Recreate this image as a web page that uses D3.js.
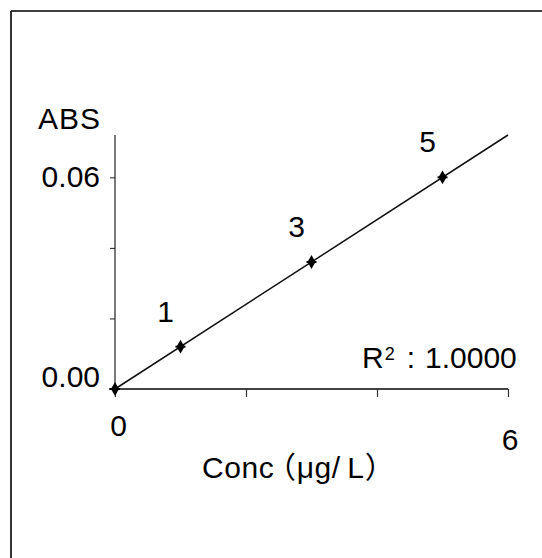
<!DOCTYPE html>
<html>
<head>
<meta charset="utf-8">
<script src="https://cdn.jsdelivr.net/npm/d3@7"></script>
<style>
  html, body { margin: 0; padding: 0; background: #fff; }
  svg { display: block; }
  text { font-family: "Liberation Sans", Arial, "Noto Sans CJK JP", sans-serif; fill: #000; }
</style>
</head>
<body>
<script>
// ---- data ----
const concValues = [0, 1, 3, 5];
const absValues = [0, 0.012, 0.036, 0.060];
const pointLabels = ["", "1", "3", "5"];
const xTickValues = [0, 2, 4, 6];
const xTickLabels = ["0", "", "", "6"];
const yTickValues = [0, 0.02, 0.04, 0.06];
const yTickLabels = ["0.00", "", "", "0.06"];
const xDomain = [0, 6];
const yDomain = [0, 0.072];
const r2Text = "1.0000";

const W = 542, H = 558;
const svg = d3.select("body").append("svg").attr("width", W).attr("height", H);

// frame
svg.append("line").attr("x1", 11).attr("y1", 11).attr("x2", W).attr("y2", 11)
  .attr("stroke", "#000").attr("stroke-width", 1.6);
svg.append("line").attr("x1", 11).attr("y1", 11).attr("x2", 11).attr("y2", H)
  .attr("stroke", "#000").attr("stroke-width", 1.6);

const x = d3.scaleLinear().domain(xDomain).range([115, 508]);
const y = d3.scaleLinear().domain(yDomain).range([389, 135]);

// y axis
const yAxis = svg.append("g").attr("transform", `translate(${x(0)},0)`)
  .call(d3.axisLeft(y).tickValues(yTickValues).tickSize(5).tickPadding(10)
    .tickFormat((d, i) => yTickLabels[i]));
yAxis.select(".domain").attr("stroke", "#222").attr("stroke-width", 1.2)
  .attr("d", `M0,${y(yDomain[1])}V${y(0)}`);
yAxis.selectAll(".tick line").attr("stroke", "#222").attr("stroke-width", 1);
yAxis.selectAll(".tick text").attr("font-size", 30).style("font-family", "Liberation Sans, Arial, sans-serif").attr("fill", "#000")
  .attr("dy", (d) => d === 0 ? "-0.08em" : "0.32em");

// x axis
const xAxis = svg.append("g").attr("transform", `translate(0,${y(0)})`)
  .call(d3.axisBottom(x).tickValues(xTickValues).tickSize(8).tickPadding(18)
    .tickFormat((d, i) => xTickLabels[i]));
xAxis.select(".domain").attr("stroke", "#444").attr("stroke-width", 2)
  .attr("d", `M${x(0) - 6},0H${x(xDomain[1])}`);
xAxis.selectAll(".tick line").attr("stroke", "#333").attr("stroke-width", 1.2);
xAxis.selectAll(".tick text").attr("font-size", 30).style("font-family", "Liberation Sans, Arial, sans-serif").attr("fill", "#000")
  .attr("dx", (d) => d === 0 ? 3 : 1.5)
  .attr("dy", (d) => d === 6 ? "1.18em" : "0.71em");

// regression line
const mx = d3.mean(concValues), my = d3.mean(absValues);
const slope = d3.sum(concValues, (c, i) => (c - mx) * (absValues[i] - my)) /
              d3.sum(concValues, (c) => (c - mx) * (c - mx));
const intercept = my - slope * mx;
svg.append("line")
  .attr("x1", x(xDomain[0])).attr("y1", y(intercept + slope * xDomain[0]))
  .attr("x2", x(xDomain[1])).attr("y2", y(intercept + slope * xDomain[1]))
  .attr("stroke", "#111").attr("stroke-width", 1.5);

// points
const pts = concValues.map((c, i) => ({ c, a: absValues[i], label: pointLabels[i] }));
svg.selectAll(".pt").data(pts).enter().append("path")
  .attr("class", "pt")
  .attr("transform", (d) => `translate(${x(d.c)},${y(d.a)})`)
  .attr("d", d3.symbol().type(d3.symbolDiamond).size(55))
  .attr("fill", "#000");
svg.selectAll(".pt-bar").data(pts).enter().append("line")
  .attr("x1", (d) => x(d.c) - 5).attr("x2", (d) => x(d.c) + 5)
  .attr("y1", (d) => y(d.a)).attr("y2", (d) => y(d.a))
  .attr("stroke", "#000").attr("stroke-width", 2);

// point labels
svg.selectAll(".plabel").data(pts.filter((d) => d.label)).enter().append("text")
  .attr("x", (d) => x(d.c) - 15).attr("y", (d) => y(d.a) - 25)
  .attr("text-anchor", "middle").attr("font-size", 30)
  .text((d) => d.label);

// axis titles
svg.append("text").attr("x", 38).attr("y", 129).attr("font-size", 30)
  .attr("letter-spacing", 1).text("ABS");
svg.append("text").attr("x", 202).attr("y", 478).attr("font-size", 30)
  .attr("letter-spacing", 0.6)
  .style("font-feature-settings", '"halt"')
  .text("Conc\u2009（μg/\u2009L）");

// R² annotation
const r2 = svg.append("text").attr("x", 362).attr("y", 368).attr("font-size", 30);
r2.append("tspan").text("R");
r2.append("tspan").attr("font-size", 18).attr("dy", -8).attr("dx", 1).text("2");
r2.append("tspan").attr("dy", 8).attr("dx", 12).text(":");
r2.append("tspan").attr("dx", 10).text(r2Text);
</script>
</body>
</html>
